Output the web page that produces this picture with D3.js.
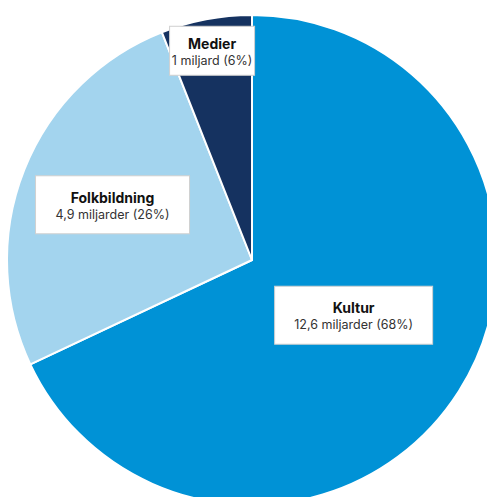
<!DOCTYPE html>
<html>
<head>
<meta charset="utf-8">
<script src="https://cdn.jsdelivr.net/npm/d3@7"></script>
<style>
  html, body { margin: 0; padding: 0; background: #fff; }
  svg { display: block; font-family: Inter, "Noto Sans", sans-serif; }
</style>
</head>
<body>
<div id="chart"></div>
<script>
const categories = ['Kultur', 'Folkbildning', 'Medier']
const amounts = ['12,6 miljarder', '4,9 miljarder', '1 miljard']
const shares = [68, 26, 6]
const colors = ['#0092d6', '#a3d4ee', '#153260']

const W = 487
const H = 497
const cx = 252
const cy = 260
const R = 245

// label layout (box width/height, radius of box centre, nudge)
const boxW = [158, 154, 85]
const labelR = [118, 150, 213]
const labelDx = [2, 0, 0]
const labelDy = [-8, 0, 0]
const labelBoxH = [58, 58, 49]

const svg = d3.select('#chart').append('svg').attr('width', W).attr('height', H)
const g = svg.append('g').attr('transform', `translate(${cx},${cy})`)

const pie = d3.pie().sort(null).value((d) => d)
const arcs = pie(shares)
const arc = d3.arc().innerRadius(0).outerRadius(R)

g.selectAll('path')
  .data(arcs)
  .enter()
  .append('path')
  .attr('d', arc)
  .attr('fill', (d, i) => colors[i])
  .attr('stroke', '#fff')
  .attr('stroke-width', 2)
  .attr('stroke-linejoin', 'round')

const labels = g.selectAll('g.label')
  .data(arcs)
  .enter()
  .append('g')
  .attr('class', 'label')
  .attr('transform', (d, i) => {
    const c = d3.arc().innerRadius(labelR[i]).outerRadius(labelR[i]).centroid(d)
    return `translate(${c[0] + labelDx[i]},${c[1] + labelDy[i]})`
  })

labels.append('rect')
  .attr('x', (d, i) => -boxW[i] / 2)
  .attr('y', (d, i) => -labelBoxH[i] / 2)
  .attr('width', (d, i) => boxW[i])
  .attr('height', (d, i) => labelBoxH[i])
  .attr('fill', '#fff')
  .attr('stroke', '#d0d0d0')
  .attr('stroke-width', 1)

labels.append('text')
  .attr('text-anchor', 'middle')
  .attr('y', -2)
  .attr('font-size', 14)
  .attr('font-weight', 700)
  .attr('fill', '#111')
  .text((d, i) => categories[i])

labels.append('text')
  .attr('text-anchor', 'middle')
  .attr('y', 14)
  .attr('font-size', 12.5)
  .attr('fill', '#333')
  .text((d, i) => `${amounts[i]} (${shares[i]}%)`)
</script>
</body>
</html>
